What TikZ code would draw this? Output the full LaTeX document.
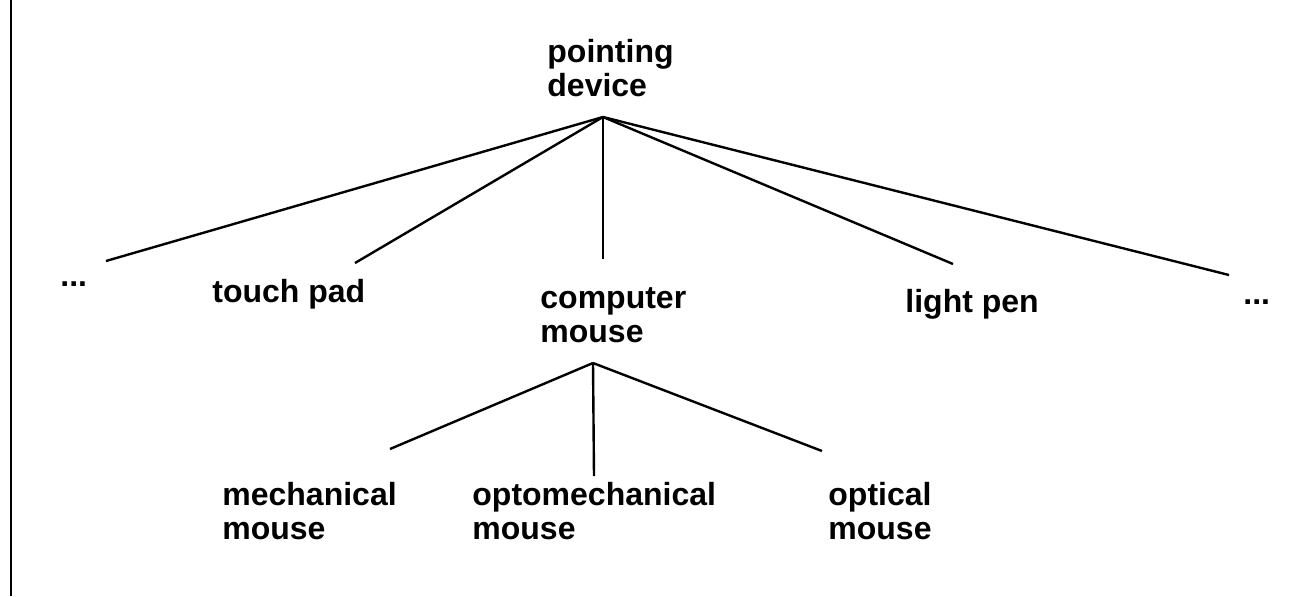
\documentclass[tikz,border=0pt]{standalone}
\usepackage{fontspec}
\setmainfont{Liberation Sans}

\begin{document}
\begin{tikzpicture}[x=0.5pt, y=-0.5pt,
  concept/.style={anchor=west, align=left, inner sep=0pt, font=\fontsize{16}{17}\selectfont\bfseries},
  branch/.style={line width=1.2pt}]
				\useasboundingbox (0,0) rectangle (1301,596);
				\draw[line width=1.2pt] (11,0) -- (11,596);
				% concepts
				\node[concept] (pd)at(547, 68) {pointing\\device};
				\node[concept] (dl)at(60, 284) {...};
				\node[concept] (tp)at(212, 294) {touch pad};
				\node[concept] (cm)at(540, 315) {computer\\mouse};
				\node[concept] (lp)at(905, 304) {light pen};
				\node[concept] (dr)at(1243, 302) {...};
				\node[concept] (mm)at(222, 511) {mechanical\\mouse};
				\node[concept] (om)at(472, 511) {optomechanical\\mouse};
				\node[concept] (op)at(828, 511) {optical\\mouse};
				% line ends
				\coordinate (pd-b) at (603, 117);
				\coordinate (dl-t) at (106, 261);
				\coordinate (tp-t) at (355, 263);
				\coordinate (cm-t) at (603, 259);
				\coordinate (lp-t) at (953, 264);
				\coordinate (dr-t) at (1229, 275);
				\coordinate (cm-b) at (593, 363);
				\coordinate (mm-t) at (390, 449);
				\coordinate (om-t) at (594, 476);
				\coordinate (op-t) at (822, 451);
				\draw[branch] (pd-b) -- (dl-t);
				\draw[branch] (pd-b) -- (tp-t);
				\draw[branch] (pd-b) -- (cm-t);
				\draw[branch] (pd-b) -- (lp-t);
				\draw[branch] (pd-b) -- (dr-t);
				\draw[branch] (cm-b) -- (mm-t);
				\draw[branch] (cm-b) -- (om-t);
				\draw[branch] (cm-b) -- (op-t);
\end{tikzpicture}
\end{document}
